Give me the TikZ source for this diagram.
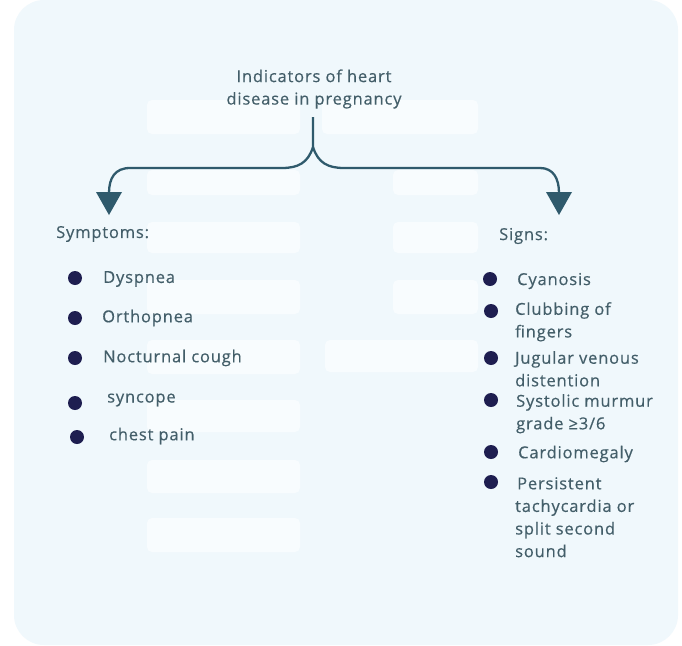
\documentclass[tikz,border=0pt]{standalone}
\usepackage{fontspec}
\setmainfont{Open Sans}[LetterSpace=5,FakeBold=0.4]
\usetikzlibrary{arrows.meta}
\definecolor{bgblue}{HTML}{F0F8FC}
\definecolor{ghost}{HTML}{F8FCFE}
\definecolor{txt}{HTML}{435E69}
\definecolor{arr}{HTML}{2F5A6C}
\definecolor{dot}{HTML}{1E1E50}
\tikzset{
  ghostbox/.style={fill=ghost, draw=none, rounded corners=5pt},
  label/.style={text=txt, font=\fontsize{16.5}{22.6}\selectfont, anchor=west, inner sep=0pt, align=left},
  titletext/.style={text=txt, font=\fontsize{16.5}{22.5}\selectfont, inner sep=0pt, align=center},
  bulletdot/.style={circle, fill=dot, minimum size=14pt, inner sep=0pt},
  link/.style={draw=arr, line width=2.3pt},
  tip/.style={fill=arr, draw=none}
}
\begin{document}
\begin{tikzpicture}[x=1pt,y=-1pt]
\useasboundingbox (0,0) rectangle (682,645);
\fill[white] (0,0) rectangle (682,645);
\fill[bgblue, rounded corners=30pt] (14,0) rectangle (678,645);
% ghost boxes
\foreach \ya/\yb in {100/134,170/195,222/253,280/314,340/374,400/432,460/493,518/552}
  \path[ghostbox] (147,\ya) rectangle (300,\yb);
\path[ghostbox] (322,100) rectangle (478,134);
\path[ghostbox] (393,170) rectangle (478,195);
\path[ghostbox] (393,222) rectangle (478,253);
\path[ghostbox] (393,280) rectangle (478,314);
\path[ghostbox] (325,340) rectangle (478,372);
% title
\node[titletext] (title) at (314,89) {Indicators of heart\\disease in pregnancy};
\coordinate (stem) at (313,117);
\coordinate (fork) at (313,147);
\coordinate (ltip) at (109,193);
\coordinate (rtip) at (559,193);
\draw[link] (stem) -- (fork)
  .. controls (308,163) and (298,168) .. (282,168) -- (130,168)
  .. controls (115,168) and (109,178) .. (ltip);
\draw[link] (fork)
  .. controls (318,163) and (328,168) .. (344,168) -- (540,168)
  .. controls (553,168) and (559,178) .. (rtip);
\fill[tip] (96,192) -- (122,192) -- (109,215) -- cycle;
\fill[tip] (546,192) -- (572,192) -- (559,215) -- cycle;
% headings
\node[label] (symp) at (56,234) {Symptoms:};
\node[label] (signs) at (499,236) {Signs:};
% symptoms
\node[bulletdot] (b1) at (75,278) {};
\node[label] (s1) at (103,279) {Dyspnea};
\node[bulletdot] (b2) at (75,318) {};
\node[label] (s2) at (102,318) {Orthopnea};
\node[bulletdot] (b3) at (75,358) {};
\node[label] (s3) at (103,358) {Nocturnal cough};
\node[bulletdot] (b4) at (75,403) {};
\node[label] (s4) at (107,400) {syncope};
\node[bulletdot] (b5) at (77,437) {};
\node[label] (s5) at (109,436) {chest pain};
% signs
\node[bulletdot] (c1) at (490,279) {};
\node[label] (g1) at (517,281) {Cyanosis};
\node[bulletdot] (c2) at (491,311) {};
\node[label, anchor=north west] (g2) at (515,302) {Clubbing of\\fingers};
\node[bulletdot] (c3) at (491,358) {};
\node[label, anchor=north west] (g3) at (515,351) {Jugular venous\\distention};
\node[bulletdot] (c4) at (491,400) {};
\node[label, anchor=north west] (g4) at (516,394) {Systolic murmur\\grade ≥3/6};
\node[bulletdot] (c5) at (491,452) {};
\node[label] (g5) at (518,454) {Cardiomegaly};
\node[bulletdot] (c6) at (491,482) {};
\node[label, anchor=north west] (g6) at (515,477) {\hspace{2pt}Persistent\\tachycardia or\\split second\\sound};
\end{tikzpicture}
\end{document}
